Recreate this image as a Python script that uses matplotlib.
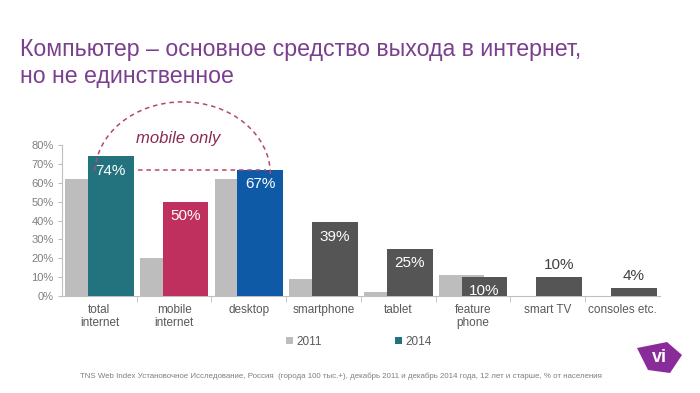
import matplotlib
matplotlib.use("Agg")
import matplotlib.pyplot as plt
from matplotlib.patches import Arc, Polygon
import numpy as np

plt.rcParams['font.family'] = ['Liberation Sans', 'DejaVu Sans']

# data
categories = ["total\ninternet", "mobile\ninternet", "desktop", "smartphone",
              "tablet", "feature\nphone", "smart TV", "consoles etc."]
values_2011 = [62, 20, 62, 9, 2, 11, 0, 0]
values_2014 = [74, 50, 67, 39, 25, 10, 10, 4]
colors_2014 = ["#23737f", "#c0305f", "#0e5aa7", "#555555",
               "#555555", "#555555", "#555555", "#555555"]
labels_inside = [True, True, True, True, True, True, False, False]

fig = plt.figure(figsize=(7, 3.93), dpi=100)
ax = fig.add_axes([0.0886, 0.2468, 0.854, 0.384])

x = np.arange(len(categories))
w = 0.61
off = 0.153
ax.bar(x - off, values_2011, w, color="#bdbdbd", label="2011", zorder=2)
bars = ax.bar(x + off, values_2014, w, color=colors_2014, label="2014", zorder=3)

for i, b in enumerate(bars):
    cx = b.get_x() + b.get_width() / 2
    h = b.get_height()
    if labels_inside[i]:
        ax.text(cx, h - 7.5, "%d%%" % values_2014[i], ha="center", va="center",
                color="white", fontsize=11, zorder=4)
    else:
        ax.text(cx, h + 6.5, "%d%%" % values_2014[i], ha="center", va="center",
                color="#404040", fontsize=11, zorder=4)

ax.set_xlim(-0.5, len(categories) - 0.5)
ax.set_ylim(0, 80)
ax.set_yticks(np.arange(0, 81, 10))
ax.set_yticklabels(["%d%%" % v for v in range(0, 81, 10)])
ax.set_xticks(x)
ax.set_xticklabels(categories, fontsize=8.5, color="#595959", linespacing=1.1)
ax.set_xticks(np.arange(0.5, len(categories) - 0.5, 1), minor=True)
ax.tick_params(axis="x", which="major", length=0, pad=6)
ax.tick_params(axis="x", which="minor", length=4, color="#bfbfbf", direction="out")
ax.tick_params(axis="y", labelsize=8, labelcolor="#7f7f7f", length=3,
               color="#bfbfbf", pad=3)
for s in ["top", "right"]:
    ax.spines[s].set_visible(False)
for s in ["left", "bottom"]:
    ax.spines[s].set_color("#bfbfbf")
    ax.spines[s].set_linewidth(0.8)

# "mobile only" annotation
dash_col = "#b5476e"
arc = Arc((1.113, 64.5), 2.35, 76.8, theta1=8, theta2=162, color=dash_col,
          lw=1.1, linestyle=(0, (3, 2.5)), clip_on=False, zorder=5)
ax.add_patch(arc)
ax.plot([0.513, 2.23], [67, 67], color=dash_col, lw=1.1,
        linestyle=(0, (3, 2.5)), zorder=5)
ax.text(1.06, 83.5, "mobile only", ha="center", va="center", fontsize=12,
        style="italic", color="#8b2a55", clip_on=False)

ax.legend(loc="center", bbox_to_anchor=(0.513, 0.13), bbox_transform=fig.transFigure,
          ncol=2, frameon=False, fontsize=8.5, labelcolor="#595959",
          handlelength=0.6, handleheight=0.6, handletextpad=0.3, columnspacing=6.2)

fig.text(0.028, 0.903, "Компьютер – основное средство выхода в интернет,\nно не единственное",
         fontsize=16.7, color="#7b3f8f", va="top", ha="left", linespacing=1.22)

fig.text(0.114, 0.043, "TNS Web Index Установочное Исследование, Россия  (города 100 тыс.+), "
         "декабрь 2011 и декабрь 2014 года, 12 лет и старше, % от населения",
         fontsize=5.7, color="#7f7f7f", va="center", ha="left")

# logo
logo = Polygon([[637 / 700, 1 - 348 / 393], [667 / 700, 1 - 342 / 393],
                [682 / 700, 1 - 355 / 393], [670 / 700, 1 - 373 / 393],
                [648 / 700, 1 - 370 / 393]], closed=True,
               transform=fig.transFigure, facecolor="#8a2b9a", edgecolor="none")
fig.patches.append(logo)
fig.text(659 / 700, 1 - 358 / 393, "vi", fontsize=13, fontweight="bold",
         color="white", ha="center", va="center")

fig.savefig("out.png", dpi=100)
